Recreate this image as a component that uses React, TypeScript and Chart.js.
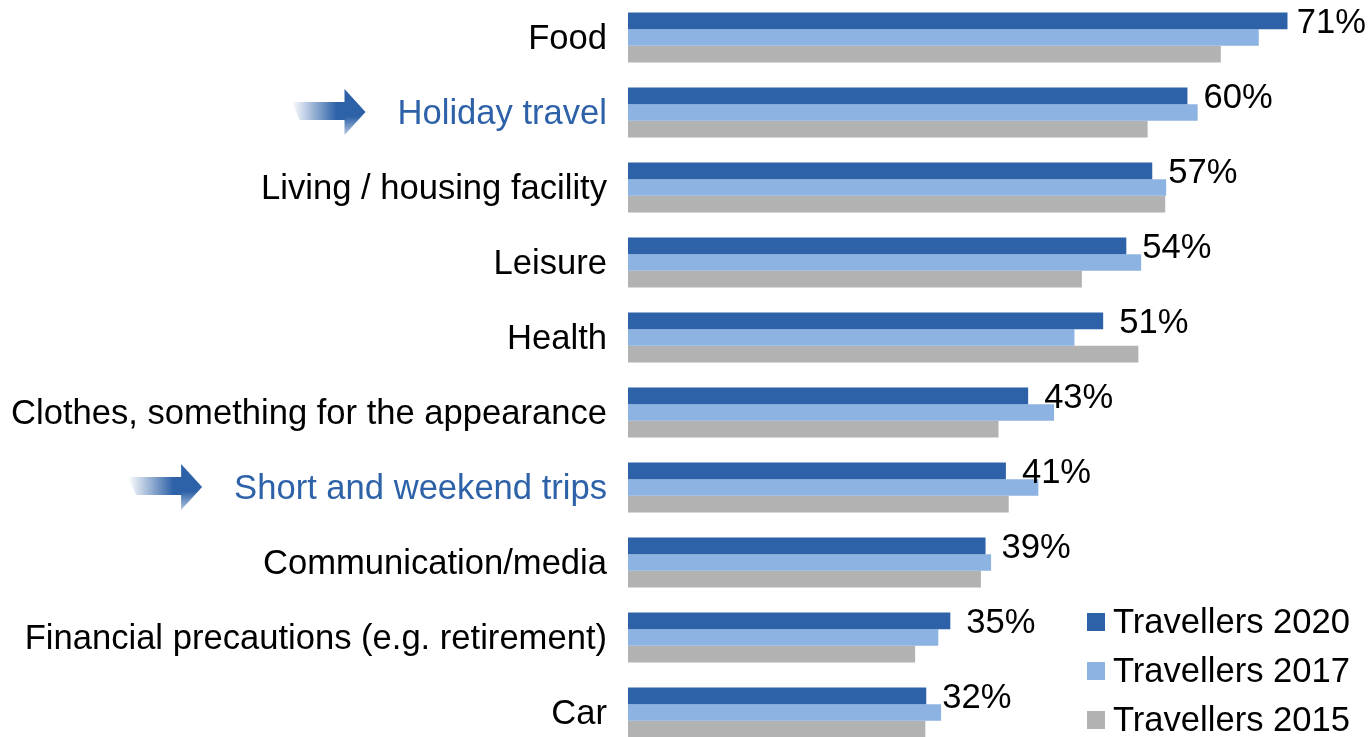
import React, { useEffect, useRef } from "react";
import { Chart, registerables } from "chart.js";

Chart.register(...registerables);

const categories = [
  "Food",
  "Holiday travel",
  "Living / housing facility",
  "Leisure",
  "Health",
  "Clothes, something for the appearance",
  "Short and weekend trips",
  "Communication/media",
  "Financial precautions (e.g. retirement)",
  "Car",
];
const highlighted = ["Holiday travel", "Short and weekend trips"];

const seriesNames = ["Travellers 2020", "Travellers 2017", "Travellers 2015"];
const travellers2020 = [71.2, 60.4, 56.6, 53.8, 51.3, 43.2, 40.8, 38.6, 34.8, 32.2];
const travellers2017 = [68.1, 61.5, 58.1, 55.4, 48.2, 46.0, 44.3, 39.2, 33.5, 33.8];
const travellers2015 = [64.0, 56.1, 58.0, 49.0, 55.1, 40.0, 41.1, 38.1, 31.0, 32.1];

const COLORS = ["#2E62A8", "#8DB3E2", "#B2B2B2"];
const HILITE = "#2E62A8";
const FONT_FAMILY = "'Liberation Sans', Arial, sans-serif";
const FONT_SIZE = 34.6;
const TICK_PAD = 21;
const LABEL_SHIFT = 1.5;

const arrowPlugin = {
  id: "arrows",
  afterDraw(chart: any) {
    const ctx = chart.ctx;
    const yScale = chart.scales.y;
    const labelRight = chart.chartArea.left - TICK_PAD;
    ctx.save();
    ctx.font = `${FONT_SIZE}px ${FONT_FAMILY}`;
    categories.forEach((cat, i) => {
      if (!highlighted.includes(cat)) return;
      const w = ctx.measureText(cat).width;
      const cy = yScale.getPixelForValue(i) - 0.5;
      const tip = labelRight - w - 32;
      const headBase = tip - 21;
      const left = tip - 74;
      const grad = ctx.createLinearGradient(left, 0, headBase, 0);
      grad.addColorStop(0, "rgba(46,98,168,0)");
      grad.addColorStop(0.85, "rgba(46,98,168,1)");
      ctx.fillStyle = grad;
      ctx.beginPath();
      ctx.moveTo(left, cy - 10);
      ctx.lineTo(headBase + 1, cy - 10);
      ctx.lineTo(headBase + 1, cy + 8);
      ctx.lineTo(left + 8, cy + 8);
      ctx.closePath();
      ctx.fill();
      const g2 = ctx.createLinearGradient(0, cy - 23, 0, cy + 23);
      g2.addColorStop(0, HILITE);
      g2.addColorStop(0.6, HILITE);
      g2.addColorStop(1, "rgba(46,98,168,0.35)");
      ctx.fillStyle = g2;
      ctx.beginPath();
      ctx.moveTo(headBase, cy - 23);
      ctx.lineTo(tip, cy);
      ctx.lineTo(headBase, cy + 23);
      ctx.closePath();
      ctx.fill();
    });
    ctx.restore();
  },
};

const labelPlugin = {
  id: "barLabels",
  afterDatasetsDraw(chart: any) {
    const ctx = chart.ctx;
    const meta = chart.getDatasetMeta(0);
    const right = chart.chartArea.right;
    ctx.save();
    ctx.font = `${FONT_SIZE}px ${FONT_FAMILY}`;
    ctx.fillStyle = "#000000";
    ctx.textBaseline = "middle";
    ctx.textAlign = "left";
    meta.data.forEach((el: any, i: number) => {
      const txt = Math.round(travellers2020[i]) + "%";
      const w = ctx.measureText(txt).width;
      const x = Math.min(el.x + 16, right - w - 3);
      ctx.fillText(txt, x, el.y + 3);
    });
    ctx.restore();
  },
};

const legendPlugin = {
  id: "customLegend",
  afterDraw(chart: any) {
    const ctx = chart.ctx;
    ctx.save();
    ctx.font = `${FONT_SIZE}px ${FONT_FAMILY}`;
    ctx.textBaseline = "middle";
    ctx.textAlign = "left";
    const x0 = 1087;
    const y0 = 622;
    const step = 49;
    seriesNames.forEach((name, i) => {
      const cy = y0 + i * step;
      ctx.fillStyle = COLORS[i];
      ctx.fillRect(x0, cy - 9, 18, 18);
      ctx.fillStyle = "#000000";
      ctx.fillText(name, x0 + 26, cy + 1);
    });
    ctx.restore();
  },
};

export default function App() {
  const canvasRef = useRef<HTMLCanvasElement | null>(null);

  useEffect(() => {
    document.body.style.overflow = "hidden";
    const canvas = canvasRef.current;
    if (!canvas) return;
    const data = [travellers2020, travellers2017, travellers2015];
    const chart = new Chart(canvas, {
      type: "bar",
      data: {
        labels: categories,
        datasets: seriesNames.map((name, i) => ({
          label: name,
          data: data[i],
          backgroundColor: COLORS[i],
          borderWidth: 0,
          categoryPercentage: 50 / 75,
          barPercentage: 1,
        })),
      },
      options: {
        indexAxis: "y",
        responsive: false,
        animation: false,
        devicePixelRatio: 1,
        layout: { padding: 0 },
        plugins: {
          legend: { display: false },
          tooltip: { enabled: false },
        },
        scales: {
          x: {
            display: false,
            min: 0,
            max: 80,
          },
          y: {
            grid: { display: false, drawTicks: false },
            border: { display: false },
            afterFit(scale: any) {
              scale.width = 628;
              scale.paddingTop = 0;
              scale.paddingBottom = 0;
            },
            ticks: {
              padding: TICK_PAD,
              labelOffset: LABEL_SHIFT,
              autoSkip: false,
              font: { family: FONT_FAMILY, size: FONT_SIZE },
              color: (c: any) =>
                highlighted.includes(categories[c.index]) ? HILITE : "#000000",
            },
          },
        },
      },
      plugins: [labelPlugin, arrowPlugin, legendPlugin],
    });
    return () => chart.destroy();
  }, []);

  return (
    <div
      style={{
        position: "fixed",
        left: 0,
        top: 0,
        width: 1369,
        height: 750,
        background: "#ffffff",
      }}
    >
      <canvas ref={canvasRef} width={1369} height={750} style={{ display: "block" }} />
    </div>
  );
}
